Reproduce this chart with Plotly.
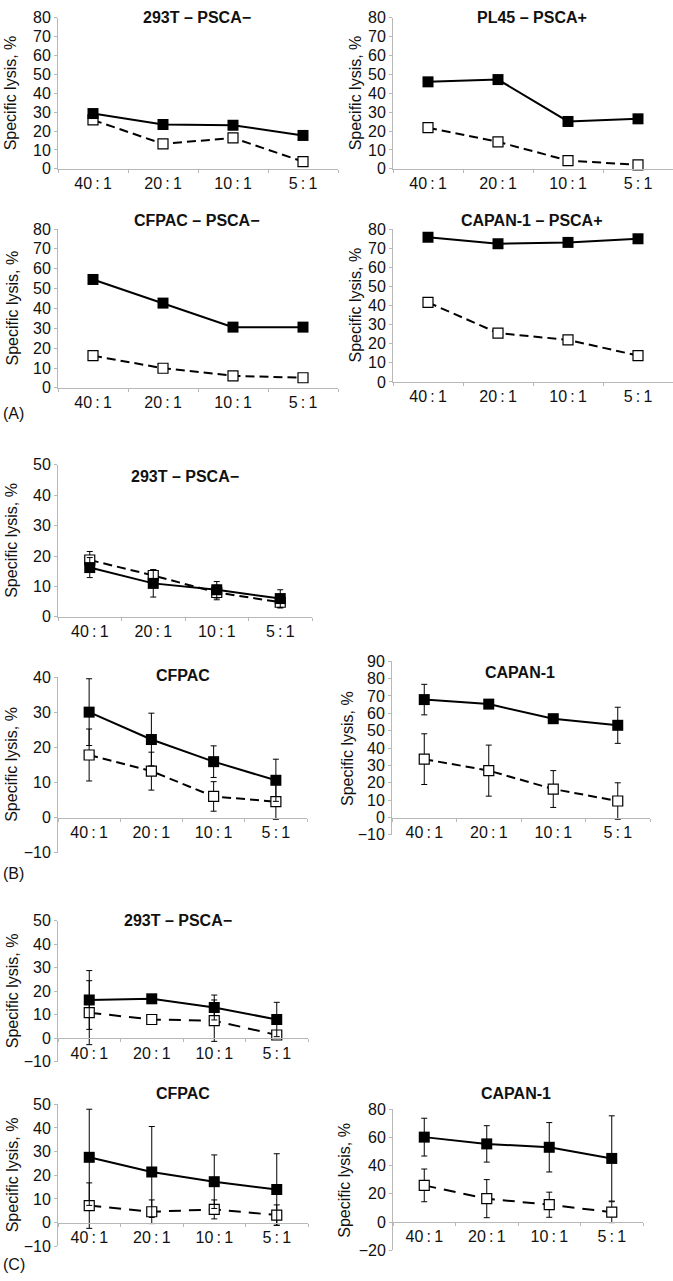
import plotly.graph_objects as go

# ---------------- data ----------------
ratios = ["40\u2009:\u20091", "20\u2009:\u20091", "10\u2009:\u20091", "5\u2009:\u20091"]

# (A)
a_293t_filled = [29.3, 23.5, 23.1, 17.7]
a_293t_open = [25.9, 13.2, 16.4, 3.8]
a_pl45_filled = [46.1, 47.3, 25.1, 26.5]
a_pl45_open = [21.8, 14.3, 4.4, 2.1]
a_cfpac_filled = [54.6, 42.7, 30.6, 30.6]
a_cfpac_open = [16.2, 9.9, 6.1, 5.1]
a_capan_filled = [75.7, 72.3, 73.0, 74.9]
a_capan_open = [41.6, 25.6, 22.0, 13.8]

# (B)
b_293t_filled = [16.2, 11.0, 8.9, 6.0]
b_293t_filled_err = [3.3, 4.5, 2.7, 2.9]
b_293t_open = [18.7, 13.6, 8.0, 4.8]
b_293t_open_err = [2.8, 1.9, 2.4, 1.9]
b_cfpac_filled = [30.0, 22.2, 15.9, 10.6]
b_cfpac_filled_err = [9.5, 7.5, 4.5, 6.0]
b_cfpac_open = [17.8, 13.2, 6.0, 4.5]
b_cfpac_open_err = [7.4, 5.4, 4.2, 5.0]
b_capan_filled = [67.9, 65.3, 56.9, 53.1]
b_capan_filled_err = [8.8, 2.5, 1.2, 10.4]
b_capan_open = [33.6, 27.0, 16.4, 9.5]
b_capan_open_err = [14.6, 14.7, 10.6, 10.5]

# (C)
c_293t_filled = [16.3, 16.8, 13.1, 8.0]
c_293t_filled_err = [12.5, 0.6, 5.3, 7.3]
c_293t_open = [10.9, 8.0, 7.5, 1.4]
c_293t_open_err = [13.6, 1.5, 8.8, 1.0]
c_cfpac_filled = [27.6, 21.4, 17.3, 14.0]
c_cfpac_filled_err = [20.3, 19.2, 11.3, 15.1]
c_cfpac_open = [7.2, 4.6, 5.6, 3.2]
c_cfpac_open_err = [9.6, 5.0, 4.0, 4.3]
c_capan_filled = [60.2, 55.4, 53.0, 45.1]
c_capan_filled_err = [13.4, 12.9, 17.5, 30.2]
c_capan_open = [26.0, 16.6, 12.3, 7.0]
c_capan_open_err = [11.6, 13.5, 8.9, 7.4]

# ---------------- layout helpers ----------------
W, H = 673, 1281
FONT = "Liberation Sans, Arial, sans-serif"
AXIS_GREY = "#b8b8b8"
TXT = "#111111"
YTITLE = "Specific lysis, %"
TICK_SIZE = 16


def fx(x):
    return x / W


def fy(y):
    return 1 - y / H


panels = [
    dict(f=a_293t_filled, o=a_293t_open, title="293T – PSCA−",
         box=(58, 338, 10, 163), yr=(0, 80), dt=10, t=(197, 9.5), lx=10, dash="9px,5px"),
    dict(f=a_pl45_filled, o=a_pl45_open, title="PL45 – PSCA+",
         box=(393, 673, 10, 163), yr=(0, 80), dt=10, t=(532, 9.5), lx=355, dash="9px,5px"),
    dict(f=a_cfpac_filled, o=a_cfpac_open, title="CFPAC – PSCA−",
         box=(58, 338, 224, 385), yr=(0, 80), dt=10, t=(197, 215), lx=12, dash="9px,5px"),
    dict(f=a_capan_filled, o=a_capan_open, title="CAPAN-1 – PSCA+",
         box=(393, 673, 224, 379), yr=(0, 80), dt=10, t=(532, 215), lx=355, dash="9px,5px"),
    dict(f=b_293t_filled, o=b_293t_open, fe=b_293t_filled_err, oe=b_293t_open_err,
         title="293T – PSCA−", box=(58, 312, 463, 617), yr=(0, 50), dt=10,
         t=(185, 475), lx=12, dash="9px,5px"),
    dict(f=b_cfpac_filled, o=b_cfpac_open, fe=b_cfpac_filled_err, oe=b_cfpac_open_err,
         title="CFPAC", box=(58, 307, 678, 856), yr=(-10, 40), dt=10,
         t=(183, 676), lx=12, dash="9px,5px"),
    dict(f=b_capan_filled, o=b_capan_open, fe=b_capan_filled_err, oe=b_capan_open_err,
         title="CAPAN-1", box=(392, 650, 662, 838), yr=(-10, 90), dt=10,
         t=(520, 673), lx=347, dash="9px,5px"),
    dict(f=c_293t_filled, o=c_293t_open, fe=c_293t_filled_err, oe=c_293t_open_err,
         title="293T – PSCA−", box=(58, 308, 925, 1068), yr=(-10, 50), dt=10,
         t=(178, 925), lx=12, dash="12px,8px"),
    dict(f=c_cfpac_filled, o=c_cfpac_open, fe=c_cfpac_filled_err, oe=c_cfpac_open_err,
         title="CFPAC", box=(58, 308, 1111, 1255), yr=(-10, 50), dt=10,
         t=(183, 1100), lx=12, dash="12px,8px"),
    dict(f=c_capan_filled, o=c_capan_open, fe=c_capan_filled_err, oe=c_capan_open_err,
         title="CAPAN-1", box=(393, 643, 1116, 1259), yr=(-20, 80), dt=20,
         t=(516, 1100), lx=345, dash="12px,8px"),
]

panel_letters = [("(A)", 411), ("(B)", 877), ("(C)", 1273)]

fig = go.Figure()
annotations = []
layout_axes = {}

for i, p in enumerate(panels, start=1):
    sx = "" if i == 1 else str(i)
    xa, ya = "x" + sx, "y" + sx
    x0, x1, top, bot = p["box"]
    y0d, y1d = fy(bot), fy(top)
    ymin, ymax = p["yr"]

    def err(arr):
        if arr is None:
            return None
        return dict(type="data", array=arr, visible=True, color="black",
                    thickness=1, width=3)

    fig.add_trace(go.Scatter(
        x=ratios, y=p["o"], xaxis=xa, yaxis=ya, mode="lines+markers",
        line=dict(color="black", width=2, dash=p["dash"]),
        marker=dict(symbol="square", size=10, color="white",
                    line=dict(color="black", width=1.2)),
        error_y=err(p.get("oe")), cliponaxis=False, showlegend=False,
        hoverinfo="skip"))
    fig.add_trace(go.Scatter(
        x=ratios, y=p["f"], xaxis=xa, yaxis=ya, mode="lines+markers",
        line=dict(color="black", width=2),
        marker=dict(symbol="square", size=11, color="black",
                    line=dict(color="black", width=0)),
        error_y=err(p.get("fe")), cliponaxis=False, showlegend=False,
        hoverinfo="skip"))

    xaxis = dict(domain=[fx(x0), fx(x1)], type="category", range=[-0.5, 3.5],
                 showline=True, linecolor=AXIS_GREY, linewidth=1,
                 ticks="outside", tickson="boundaries", ticklen=3,
                 tickcolor=AXIS_GREY,
                 tickfont=dict(family=FONT, size=TICK_SIZE, color=TXT),
                 showgrid=False, zeroline=False, fixedrange=True)
    if ymin < 0:
        xaxis["anchor"] = "free"
        xaxis["position"] = y0d + (0 - ymin) / (ymax - ymin) * (y1d - y0d)
    else:
        xaxis["anchor"] = ya
    yaxis = dict(domain=[y0d, y1d], anchor=xa, range=[ymin, ymax],
                 tick0=ymin, dtick=p["dt"], showline=True, linecolor=AXIS_GREY,
                 linewidth=1, ticks="outside", ticklen=3, tickcolor=AXIS_GREY,
                 tickfont=dict(family=FONT, size=TICK_SIZE, color=TXT),
                 showgrid=False, zeroline=False, fixedrange=True)
    layout_axes["xaxis" + sx] = xaxis
    layout_axes["yaxis" + sx] = yaxis

    tx, ty = p["t"]
    annotations.append(dict(text="<b>" + p["title"] + "</b>", x=fx(tx), y=fy(ty),
                            xref="paper", yref="paper", xanchor="center",
                            yanchor="middle", showarrow=False,
                            font=dict(family=FONT, size=16, color=TXT)))
    annotations.append(dict(text=YTITLE, x=fx(p["lx"]), y=(y0d + y1d) / 2,
                            xref="paper", yref="paper", xanchor="center",
                            yanchor="middle", textangle=-90, showarrow=False,
                            font=dict(family=FONT, size=16, color=TXT)))

for lbl, ly in panel_letters:
    annotations.append(dict(text=lbl, x=0.002, y=fy(ly), xref="paper", yref="paper",
                            xanchor="left", yanchor="middle", showarrow=False,
                            font=dict(family=FONT, size=16, color=TXT)))

fig.update_layout(width=W, height=H, margin=dict(l=0, r=0, t=0, b=0),
                  paper_bgcolor="white", plot_bgcolor="white",
                  annotations=annotations, showlegend=False, **layout_axes)

fig.write_html("out.html",
               config={"displayModeBar": False, "staticPlot": True},
               post_script="document.body.style.margin='0';"
                           "document.body.style.overflow='hidden';")
